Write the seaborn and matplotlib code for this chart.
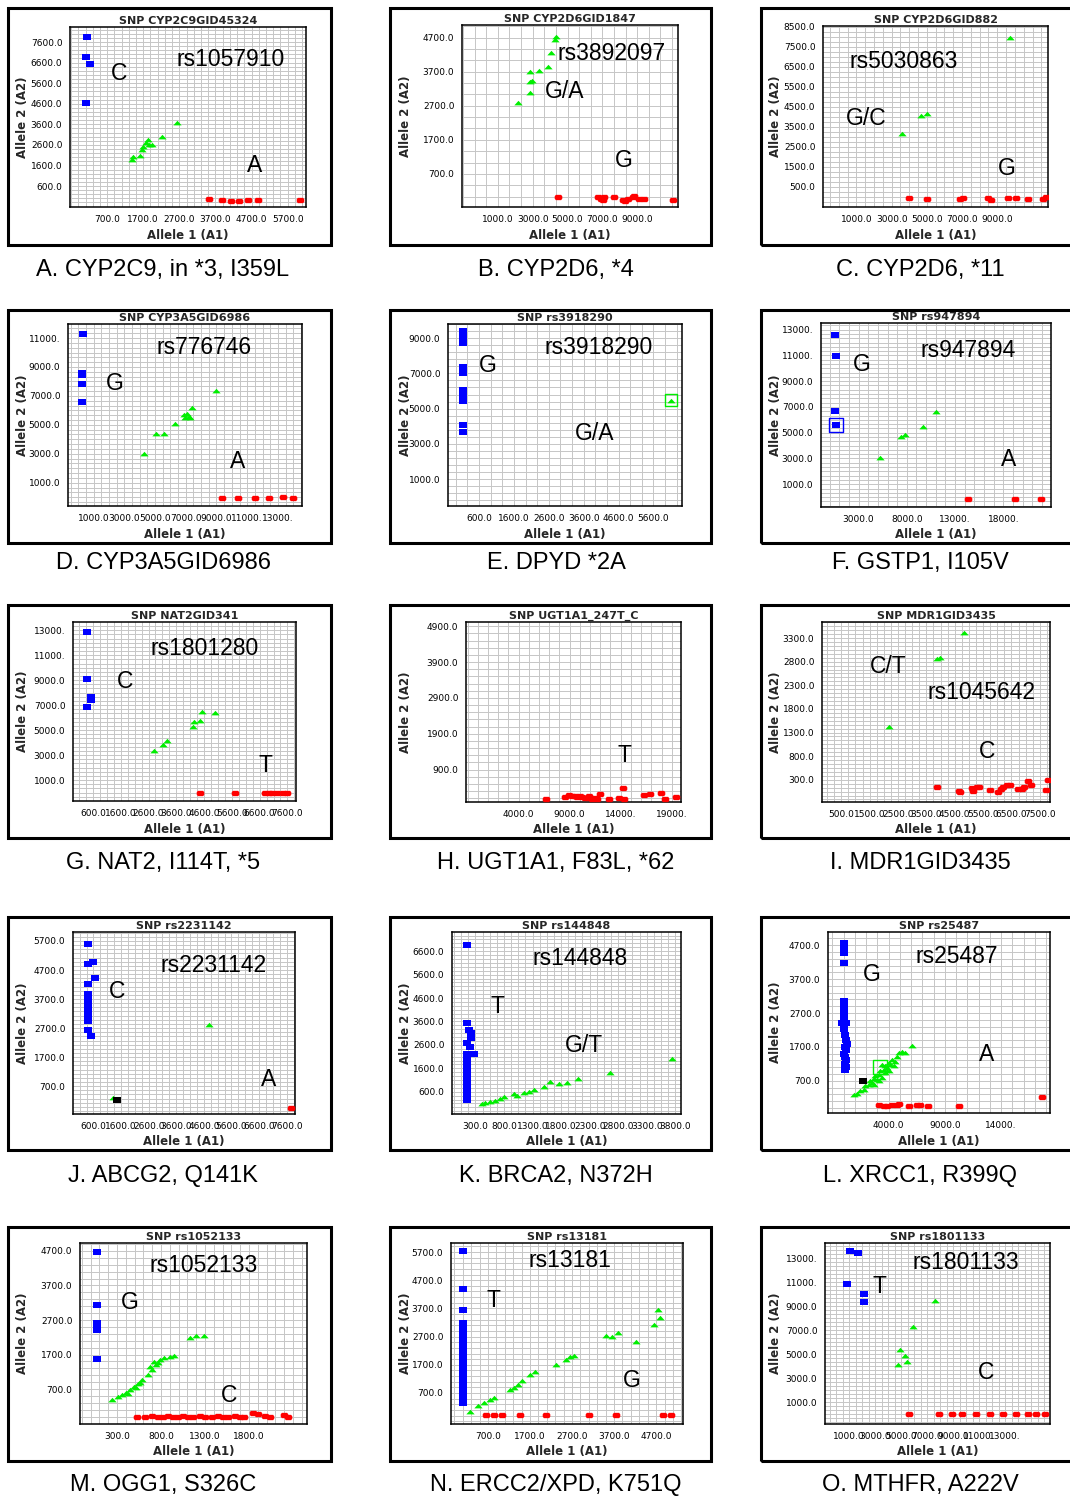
import matplotlib
matplotlib.use("Agg")
import matplotlib.pyplot as plt
import seaborn as sns
from matplotlib.patches import Rectangle
from matplotlib.ticker import AutoMinorLocator

# ---------------- Panel A ----------------
a_title = "SNP CYP2C9GID45324"
a_caption = "A. CYP2C9, in *3, I359L"
a_labels = ["rs1057910", "C", "A"]
a_xticks = [700, 1700, 2700, 3700, 4700, 5700]
a_yticks = [600, 1600, 2600, 3600, 4600, 5600, 6600, 7600]
a_blue_x = [130, 100, 215, 100]
a_blue_y = [7830, 6860, 6520, 4630]
a_green_x = [1390, 1420, 1620, 1670, 1700, 1780, 1840, 1870, 1950, 2230, 2640]
a_green_y = [1860, 2010, 2060, 2350, 2490, 2690, 2830, 2590, 2590, 2980, 3660]
a_red_x = [3530, 3890, 4120, 4340, 4590, 4890, 6030]
a_red_y = [-30, -80, -130, -130, -80, -80, -80]

# ---------------- Panel B ----------------
b_title = "SNP CYP2D6GID1847"
b_caption = "B. CYP2D6, *4"
b_labels = ["rs3892097", "G/A", "G"]
b_xticks = [1000, 3000, 5000, 7000, 9000]
b_yticks = [700, 1700, 2700, 3700, 4700]
b_green_x = [2160, 2830, 2870, 2980, 2830, 3340, 3880, 4070, 4260, 4310]
b_green_y = [2770, 3070, 3410, 3440, 3700, 3720, 3850, 4240, 4630, 4710]
b_red_x = [4450, 6730, 6900, 7020, 7110, 7690, 8160, 8300, 8450, 8730, 8830, 9110, 9400, 11080]
b_red_y = [35, 30, -40, -60, 20, 20, -60, -90, -30, 10, 40, -40, -30, -60]

# ---------------- Panel C ----------------
c_title = "SNP CYP2D6GID882"
c_caption = "C. CYP2D6, *11"
c_labels = ["rs5030863", "G/C", "G"]
c_xticks = [1000, 3000, 5000, 7000, 9000]
c_yticks = [500, 1500, 2500, 3500, 4500, 5500, 6500, 7500, 8500]
c_green_x = [3560, 4690, 4980, 9730]
c_green_y = [3140, 4050, 4140, 7950]
c_red_x = [3970, 5010, 6870, 7060, 8480, 8630, 9610, 10090, 10750, 11600, 11740]
c_red_y = [-50, -100, -100, -60, -60, -150, -60, -60, -120, -100, -20]

# ---------------- Panel D ----------------
d_title = "SNP CYP3A5GID6986"
d_caption = "D. CYP3A5GID6986"
d_labels = ["rs776746", "G", "A"]
d_xticks = [1000, 3000, 5000, 7000, 9000, 11000, 13000]
d_yticks = [1000, 3000, 5000, 7000, 9000, 11000]
d_blue_x = [300, 210, 210, 210, 210]
d_blue_y = [11280, 8580, 8460, 7840, 6610]
d_green_x = [4300, 5080, 5550, 6320, 6860, 7080, 7180, 7400, 8990, 6950, 7250]
d_green_y = [2970, 4360, 4400, 5050, 5690, 5760, 5550, 6160, 7370, 5500, 5450]
d_red_x = [9360, 10400, 11480, 12420, 13330, 13980]
d_red_y = [-70, -70, -70, -70, 0, -70]

# ---------------- Panel E ----------------
e_title = "SNP rs3918290"
e_caption = "E. DPYD *2A"
e_labels = ["rs3918290", "G", "G/A"]
e_xticks = [600, 1600, 2600, 3600, 4600, 5600]
e_yticks = [1000, 3000, 5000, 7000, 9000]
e_blue_x = [140, 140, 140, 140, 140, 140, 140, 140, 140, 140, 140, 140]
e_blue_y = [9400, 9200, 9000, 8750, 7350, 7000, 6050, 5800, 5600, 5450, 4100, 3700]
e_green_x = [6100]
e_green_y = [5440]
e_mark_x = [6100]
e_mark_y = [5480]

# ---------------- Panel F ----------------
f_title = "SNP rs947894"
f_caption = "F. GSTP1, I105V"
f_labels = ["rs947894", "G", "A"]
f_xticks = [3000, 8000, 13000, 18000]
f_yticks = [1000, 3000, 5000, 7000, 9000, 11000, 13000]
f_blue_x = [520, 660, 520, 660]
f_blue_y = [12610, 10920, 6690, 5600]
f_green_x = [5240, 7390, 7830, 9720, 11040]
f_green_y = [3000, 4680, 4820, 5460, 6590]
f_red_x = [14310, 19200, 21890]
f_red_y = [-120, -120, -120]
f_mark_x = [660]
f_mark_y = [5600]

# ---------------- Panel G ----------------
g_title = "SNP NAT2GID341"
g_caption = "G. NAT2, I114T, *5"
g_labels = ["rs1801280", "C", "T"]
g_xticks = [600, 1600, 2600, 3600, 4600, 5600, 6600, 7600]
g_yticks = [1000, 3000, 5000, 7000, 9000, 11000, 13000]
g_blue_x = [400, 400, 540, 540, 400]
g_blue_y = [12820, 9060, 7660, 7400, 6820]
g_green_x = [2800, 3130, 3250, 4190, 4250, 4450, 4540, 4990]
g_green_y = [3340, 3800, 4140, 5220, 5660, 5740, 6460, 6380]
g_red_x = [4450, 5720, 6800, 6920, 7040, 7220, 7440, 7600]
g_red_y = [-60, -20, -60, -40, -40, -40, -40, -60]

# ---------------- Panel H ----------------
h_title = "SNP UGT1A1_247T_C"
h_caption = "H. UGT1A1, F83L, *62"
h_labels = ["T"]
h_xticks = [4000, 9000, 14000, 19000]
h_yticks = [900, 1900, 2900, 3900, 4900]
h_red_x = [6720, 8580, 8900, 9240, 9500, 9730, 10000, 10220, 10540, 10800, 10860, 11200,
           11520, 11700, 11940, 12820, 13800, 14240, 14290, 16260, 16910, 17990, 18380, 19460]
h_red_y = [70, 135, 180, 155, 160, 135, 150, 135, 120, 100, 155, 90,
           120, 80, 230, 70, 120, 390, 90, 180, 230, 250, 90, 135]

# ---------------- Panel I ----------------
i_title = "SNP MDR1GID3435"
i_caption = "I. MDR1GID3435"
i_labels = ["C/T", "rs1045642", "C"]
i_xticks = [500, 1500, 2500, 3500, 4500, 5500, 6500, 7500]
i_yticks = [300, 800, 1300, 1800, 2300, 2800, 3300]
i_green_x = [2170, 3870, 3990, 4830]
i_green_y = [1410, 2850, 2870, 3400]
i_red_x = [3870, 4660, 4690, 5100, 5160, 5280, 5360, 5750, 6040, 6120,
           6220, 6340, 6450, 6720, 6860, 6950, 7070, 7190, 7720, 7790]
i_red_y = [138, 68, 32, 125, 53, 146, 138, 74, 32, 104,
           146, 180, 180, 104, 111, 138, 264, 180, 74, 300]

# ---------------- Panel J ----------------
j_title = "SNP rs2231142"
j_caption = "J. ABCG2, Q141K"
j_labels = ["rs2231142", "C", "A"]
j_xticks = [600, 1600, 2600, 3600, 4600, 5600, 6600, 7600]
j_yticks = [700, 1700, 2700, 3700, 4700, 5700]
j_blue_x = [420, 420, 600, 660, 420, 420, 420, 420, 420, 420, 420, 420, 420, 500]
j_blue_y = [5610, 4920, 4980, 4410, 4230, 3890, 3750, 3600, 3450, 3260, 3100, 2950, 2630, 2420]
j_green_x = [4780, 1320]
j_green_y = [2800, 300]
j_black_x = [1470]
j_black_y = [220]
j_red_x = [7740]
j_red_y = [-50]

# ---------------- Panel K ----------------
k_title = "SNP rs144848"
k_caption = "K. BRCA2, N372H"
k_labels = ["rs144848", "T", "G/T"]
k_xticks = [300, 800, 1300, 1800, 2300, 2800, 3300, 3800]
k_yticks = [600, 1600, 2600, 3600, 4600, 5600, 6600]
k_blue_x = [155, 155, 185, 230, 230, 155, 200, 271, 155, 155, 155, 155, 155,
            155, 155, 155, 155, 155, 155, 155, 155, 155]
k_blue_y = [6880, 3540, 3230, 3090, 2880, 2660, 2500, 2210, 2200, 2050, 1900, 1750, 1600,
            1450, 1300, 1150, 1000, 850, 700, 550, 400, 250]
k_green_x = [417, 475, 563, 650, 738, 796, 971, 1030, 1146, 1233, 1321, 1496,
             1613, 1759, 1906, 2099, 2664, 3745]
k_green_y = [62, 131, 174, 216, 276, 361, 489, 431, 532, 600, 672, 787,
             1026, 915, 958, 1142, 1385, 1982]

# ---------------- Panel L ----------------
l_title = "SNP rs25487"
l_caption = "L. XRCC1, R399Q"
l_labels = ["rs25487", "G", "A"]
l_xticks = [4000, 9000, 14000]
l_yticks = [700, 1700, 2700, 3700, 4700]
l_blue_x = [0, 0, 0, 0, 0, 0, 0, 0, 0, -150, 250, 0, 100, 200, 330, 100, 250, 0, 150, 250, 100, 200, 150]
l_blue_y = [4780, 4620, 4470, 4180, 3060, 2920, 2780, 2640, 2500, 2400, 2400, 2220, 2060, 1900,
            1800, 1700, 1600, 1500, 1400, 1300, 1200, 1100, 1030]
l_green_x = [894, 1190, 1486, 1781, 1929, 2225, 2373, 2521, 2669, 2817, 2965, 3113, 3261, 3408,
             3556, 3704, 3852, 4000, 4148, 4296, 3704, 3408, 3113, 2669, 4740, 4887, 5183, 5479,
             4592, 6071, 4444, 4000]
l_green_y = [269, 318, 386, 435, 533, 582, 680, 631, 749, 827, 729, 876, 975, 778,
             1024, 1122, 1073, 1220, 1171, 1318, 925, 1171, 680, 582, 1416, 1533, 1563, 1514,
             1269, 1729, 1122, 975]
l_black_x = [1690]
l_black_y = [680]
l_red_x = [3172, 3556, 3852, 4296, 4740, 4947, 5775, 6573, 6810, 7490, 10271, 17607]
l_red_y = [-26, -35, -35, -26, -6, 24, -35, -26, -6, -35, -35, 220]
l_mark_x = [3260]
l_mark_y = [1120]

# ---------------- Panel M ----------------
m_title = "SNP rs1052133"
m_caption = "M. OGG1, S326C"
m_labels = ["rs1052133", "G", "C"]
m_xticks = [300, 800, 1300, 1800]
m_yticks = [700, 1700, 2700, 3700, 4700]
m_blue_x = [73, 73, 73, 73, 73, 73]
m_blue_y = [4670, 3130, 2620, 2500, 2400, 1570]
m_green_x = [243, 311, 357, 402, 448, 493, 539, 584, 652, 675, 720, 766, 789, 834, 902, 948,
             1130, 1198, 1289, 561, 425, 516, 698, 743]
m_green_y = [381, 468, 526, 584, 671, 758, 845, 961, 1106, 1338, 1483, 1454, 1541, 1599, 1628, 1657,
             2178, 2236, 2236, 874, 555, 729, 1251, 1396]
m_red_x = [527, 618, 698, 766, 823, 880, 936, 993, 1050, 1107, 1164, 1243, 1300,
           1380, 1448, 1505, 1561, 1641, 1698, 1743, 1845, 1902, 1982, 2039, 2198, 2243]
m_red_y = [-100, -100, -90, -100, -100, -90, -100, -100, -90, -100, -100, -90, -100,
           -100, -90, -100, -100, -90, -100, -100, 20, -20, -80, -100, -40, -100]

# ---------------- Panel N ----------------
n_title = "SNP rs13181"
n_caption = "N. ERCC2/XPD, K751Q"
n_labels = ["rs13181", "T", "G"]
n_xticks = [700, 1700, 2700, 3700, 4700]
n_yticks = [700, 1700, 2700, 3700, 4700, 5700]
n_blue_x = [105] * 20
n_blue_y = [5735, 4390, 3640, 3200, 3050, 2900, 2750, 2600, 2450, 2300,
            2100, 1900, 1700, 1500, 1300, 1100, 900, 700, 500, 350]
n_green_x = [271, 462, 605, 748, 843, 1224, 1319, 1414, 1510, 1700, 1819, 2319, 2557, 2652,
             2748, 3510, 3652, 3795, 4224, 4652, 4795, 4748]
n_green_y = [26, 239, 345, 452, 523, 806, 877, 984, 1126, 1338, 1445, 1693, 1870, 1977,
             2012, 2721, 2686, 2828, 2509, 3111, 3360, 3643]
n_red_x = [652, 843, 1033, 1462, 2081, 3105, 3748, 4867, 5057]
n_red_y = [-80, -80, -80, -80, -80, -80, -80, -80, -80]

# ---------------- Panel O ----------------
o_title = "SNP rs1801133"
o_caption = "O. MTHFR, A222V"
o_labels = ["rs1801133", "T", "C"]
o_xticks = [1000, 3000, 5000, 7000, 9000, 11000, 13000]
o_yticks = [1000, 3000, 5000, 7000, 9000, 11000, 13000]
o_blue_x = [1077, 1692, 846, 2154, 2154]
o_blue_y = [13583, 13417, 10833, 10000, 9333]
o_green_x = [7615, 5923, 4923, 5308, 4769, 5462]
o_green_y = [9417, 7250, 5333, 4833, 4083, 4333]
o_red_x = [5615, 7923, 8923, 9692, 10769, 11846, 12846, 13846, 14769, 15385, 16077]
o_red_y = [0, -30, 0, -30, 0, -30, 0, -30, 0, -30, 0]

# ---------------- layout / style ----------------
W, H = 1070, 1498
ROWS = [(8, 245), (310, 543), (605, 838), (917, 1150), (1227, 1461)]
COLS = [(8, 331), (390, 711), (761, 1078)]
CAP_Y = [270, 563, 863, 1176, 1485]
CAP_X = [163, 556, 920]

BLUE, GREEN, RED = "#0000ff", "#00ee00", "#ff0000"
SQUARE = [(-1, -0.75), (1, -0.75), (1, 0.75), (-1, 0.75)]
TRIANGLE = [(-1, -0.45), (1, -0.45), (0, 0.65)]
BLOB = [(-1, -0.3), (-0.7, -0.7), (0.7, -0.7), (1, -0.3), (1, 0.3), (0.7, 0.7), (-0.7, 0.7), (-1, 0.3)]

panels = [
    dict(title=a_title, caption=a_caption, labels=a_labels, lpos=[(0.68, 0.82), (0.21, 0.74), (0.78, 0.23)],
         ax=(70, 27, 306, 207), xlim=(-330, 6210), ylim=(-420, 8330), xt=a_xticks, yt=a_yticks, n=(5, 5),
         blue=(a_blue_x, a_blue_y), green=(a_green_x, a_green_y), red=(a_red_x, a_red_y)),
    dict(title=b_title, caption=b_caption, labels=b_labels, lpos=[(0.693, 0.845), (0.477, 0.634), (0.75, 0.258)],
         ax=(462, 25, 678, 207), xlim=(-1060, 11340), ylim=(-270, 5070), xt=b_xticks, yt=b_yticks, n=(3, 3),
         green=(b_green_x, b_green_y), red=(b_red_x, b_red_y)),
    dict(title=c_title, caption=c_caption, labels=c_labels, lpos=[(0.357, 0.803), (0.194, 0.49), (0.819, 0.214)],
         ax=(823, 26, 1048, 207), xlim=(-900, 11880), ylim=(-520, 8540), xt=c_xticks, yt=c_yticks, n=(4, 4),
         green=(c_green_x, c_green_y), red=(c_red_x, c_red_y)),
    dict(title=d_title, caption=d_caption, labels=d_labels, lpos=[(0.58, 0.871), (0.202, 0.675), (0.725, 0.244)],
         ax=(68, 324, 302, 506), xlim=(-670, 14570), ylim=(-610, 11970), xt=d_xticks, yt=d_yticks, n=(4, 6),
         blue=(d_blue_x, d_blue_y), green=(d_green_x, d_green_y), red=(d_red_x, d_red_y)),
    dict(title=e_title, caption=e_caption, labels=e_labels, lpos=[(0.643, 0.871), (0.169, 0.77), (0.626, 0.40)],
         ax=(448, 324, 682, 506), xlim=(-290, 6420), ylim=(-520, 9800), xt=e_xticks, yt=e_yticks, n=(3, 5),
         blue=(e_blue_x, e_blue_y), green=(e_green_x, e_green_y), mark=(e_mark_x, e_mark_y, GREEN, 70)),
    dict(title=f_title, caption=f_caption, labels=f_labels, lpos=[(0.641, 0.849), (0.178, 0.776), (0.815, 0.26)],
         ax=(821, 323, 1051, 507), xlim=(-890, 22930), ylim=(-770, 13520), xt=f_xticks, yt=f_yticks, n=(5, 6),
         blue=(f_blue_x, f_blue_y), green=(f_green_x, f_green_y), red=(f_red_x, f_red_y),
         mark=(f_mark_x, f_mark_y, BLUE, 110)),
    dict(title=g_title, caption=g_caption, labels=g_labels, lpos=[(0.592, 0.852), (0.233, 0.669), (0.861, 0.197)],
         ax=(73, 622, 296, 801), xlim=(-120, 7910), ylim=(-680, 13660), xt=g_xticks, yt=g_yticks, n=(4, 6),
         blue=(g_blue_x, g_blue_y), green=(g_green_x, g_green_y), red=(g_red_x, g_red_y)),
    dict(title=h_title, caption=h_caption, labels=h_labels, lpos=[(0.737, 0.26)],
         ax=(466, 622, 681, 802), xlim=(-1160, 19910), ylim=(-5, 5020), xt=h_xticks, yt=h_yticks, n=(5, 5),
         red=(h_red_x, h_red_y)),
    dict(title=i_title, caption=i_caption, labels=i_labels, lpos=[(0.292, 0.751), (0.70, 0.607), (0.723, 0.28)],
         ax=(822, 622, 1050, 802), xlim=(-180, 7860), ylim=(-170, 3640), xt=i_xticks, yt=i_yticks, n=(4, 6),
         green=(i_green_x, i_green_y), red=(i_red_x, i_red_y)),
    dict(title=j_title, caption=j_caption, labels=j_labels, lpos=[(0.632, 0.817), (0.198, 0.675), (0.88, 0.192)],
         ax=(73, 932, 295, 1114), xlim=(-140, 7900), ylim=(-260, 6010), xt=j_xticks, yt=j_yticks, n=(4, 7),
         blue=(j_blue_x, j_blue_y), green=(j_green_x, j_green_y), red=(j_red_x, j_red_y),
         black=(j_black_x, j_black_y)),
    dict(title=k_title, caption=k_caption, labels=k_labels, lpos=[(0.56, 0.854), (0.197, 0.589), (0.575, 0.378)],
         ax=(452, 932, 681, 1114), xlim=(-110, 3900), ylim=(-350, 7420), xt=k_xticks, yt=k_yticks, n=(4, 6),
         blue=(k_blue_x, k_blue_y), green=(k_green_x, k_green_y)),
    dict(title=l_title, caption=l_caption, labels=l_labels, lpos=[(0.58, 0.862), (0.198, 0.767), (0.715, 0.321)],
         ax=(828, 932, 1050, 1113), xlim=(-1380, 18350), ylim=(-250, 5090), xt=l_xticks, yt=l_yticks, n=(5, 5),
         blue=(l_blue_x, l_blue_y), green=(l_green_x, l_green_y), red=(l_red_x, l_red_y),
         black=(l_black_x, l_black_y), mark=(l_mark_x, l_mark_y, GREEN, 100)),
    dict(title=m_title, caption=m_caption, labels=m_labels, lpos=[(0.546, 0.873), (0.22, 0.674), (0.656, 0.16)],
         ax=(80, 1243, 307, 1424), xlim=(-120, 2460), ylim=(-310, 4930), xt=m_xticks, yt=m_yticks, n=(5, 5),
         blue=(m_blue_x, m_blue_y), green=(m_green_x, m_green_y), red=(m_red_x, m_red_y)),
    dict(title=n_title, caption=n_caption, labels=n_labels, lpos=[(0.513, 0.906), (0.181, 0.68), (0.78, 0.243)],
         ax=(451, 1243, 683, 1424), xlim=(-180, 5340), ylim=(-400, 6020), xt=n_xticks, yt=n_yticks, n=(5, 5),
         blue=(n_blue_x, n_blue_y), green=(n_green_x, n_green_y), red=(n_red_x, n_red_y)),
    dict(title=o_title, caption=o_caption, labels=o_labels, lpos=[(0.627, 0.895), (0.244, 0.757), (0.716, 0.282)],
         ax=(825, 1243, 1050, 1424), xlim=(-850, 16460), ylim=(-830, 14250), xt=o_xticks, yt=o_yticks, n=(4, 6),
         blue=(o_blue_x, o_blue_y), green=(o_green_x, o_green_y), red=(o_red_x, o_red_y)),
]

sns.set_style("white")
plt.rcParams["font.family"] = ["DejaVu Sans"]
BIG = "Liberation Sans"

fig = plt.figure(figsize=(W / 100, H / 100), dpi=100)


def fmt(v):
    return f"{v:.1f}"[:6]


for idx, p in enumerate(panels):
    r, c = divmod(idx, 3)
    bt, bb = ROWS[r]
    bl, br = COLS[c]
    fig.patches.append(Rectangle((bl / W, 1 - bb / H), (br - bl) / W, (bb - bt) / H,
                                 transform=fig.transFigure, fill=False, ec="black", lw=2.2, zorder=10))
    l, t, rr, b = p["ax"]
    aw, ah = rr - l, b - t
    ax = fig.add_axes([l / W, 1 - b / H, aw / W, ah / H])
    ax.set_axisbelow(True)

    if "blue" in p:
        sns.scatterplot(x=p["blue"][0], y=p["blue"][1], marker=SQUARE, color=BLUE, s=28,
                        linewidth=0, ax=ax, legend=False, zorder=3)
    if "green" in p:
        sns.scatterplot(x=p["green"][0], y=p["green"][1], marker=TRIANGLE, color=GREEN, s=36,
                        linewidth=0, ax=ax, legend=False, zorder=3)
    if "red" in p:
        sns.scatterplot(x=p["red"][0], y=p["red"][1], marker=BLOB, color=RED, s=30,
                        linewidth=0, ax=ax, legend=False, zorder=3)
    if "black" in p:
        sns.scatterplot(x=p["black"][0], y=p["black"][1], marker=SQUARE, color="black", s=30,
                        linewidth=0, ax=ax, legend=False, zorder=4)
    if "mark" in p:
        mx, my, mcol, ms = p["mark"]
        ax.scatter(mx, my, marker="s", s=ms, facecolors="none", edgecolors=mcol, linewidths=1.0, zorder=4)

    ax.set_xlim(*p["xlim"])
    ax.set_ylim(*p["ylim"])
    ax.set_xticks(p["xt"], [fmt(v) for v in p["xt"]])
    ax.set_yticks(p["yt"], [fmt(v) for v in p["yt"]])
    ax.xaxis.set_minor_locator(AutoMinorLocator(p["n"][0]))
    ax.yaxis.set_minor_locator(AutoMinorLocator(p["n"][1]))
    ax.grid(True, which="both", color="#c6c6c6", lw=0.7)
    ax.tick_params(which="both", direction="out", length=3, width=0.7, color="#8c8c8c",
                   labelsize=6.5, pad=2.5, labelcolor="black")
    for s in ax.spines.values():
        s.set_color("black")
        s.set_linewidth(1.1)

    ax.set_title(p["title"], fontsize=8, fontweight="bold", pad=2.5)
    ax.set_xlabel("Allele 1 (A1)", fontsize=8.5, fontweight="bold")
    ax.set_ylabel("Allele 2 (A2)", fontsize=8.5, fontweight="bold")
    ax.xaxis.label.set_va("center")
    ax.yaxis.label.set_va("center")
    ax.xaxis.set_label_coords(0.5, -((bb - 9) - b) / ah)
    ax.yaxis.set_label_coords(((bl + 15) - l) / aw, 0.5)

    for txt, (fx, fy) in zip(p["labels"], p["lpos"]):
        ax.text(fx, fy, txt, transform=ax.transAxes, ha="center", va="center",
                fontsize=16.5, family=BIG, color="black", zorder=5)

    fig.text(CAP_X[c] / W, 1 - CAP_Y[r] / H, p["caption"], ha="center", va="center",
             fontsize=17, family=BIG, color="black")

fig.savefig("out.png", dpi=100)
